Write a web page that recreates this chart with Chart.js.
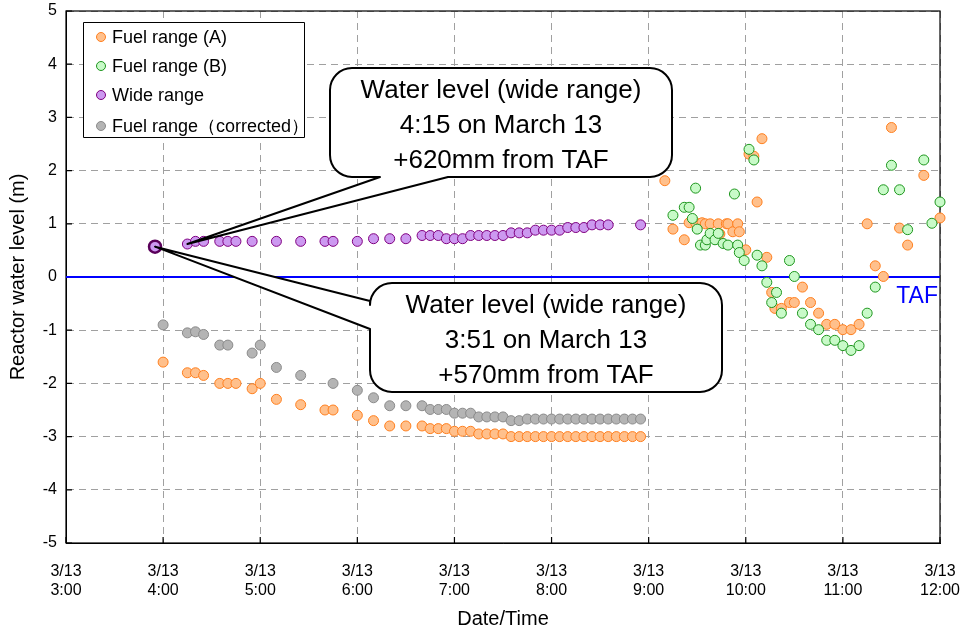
<!DOCTYPE html>
<html>
<head>
<meta charset="utf-8">
<script src="https://cdn.jsdelivr.net/npm/chart.js@4.4.1/dist/chart.umd.min.js"></script>
<style>
  html, body { margin: 0; padding: 0; background: #fff; }
</style>
</head>
<body>
<canvas id="chart" width="968" height="635"></canvas>
<script>
const FONT = "'Liberation Sans', Arial, sans-serif";

// x ticks: every hour from 3:00 to 12:00 on 3/13
const hourLabels = ['3:00', '4:00', '5:00', '6:00', '7:00', '8:00', '9:00', '10:00', '11:00', '12:00'];
const dateLabel = '3/13';
const TAF_LEVEL = 0;

// Fuel range (A)
const fuelATimes = [
  '4:00', '4:15', '4:20', '4:25', '4:35', '4:40', '4:45', '4:55', '5:00', '5:10', '5:25', '5:40', '5:45',
  '6:00', '6:10', '6:20', '6:30', '6:40', '6:45', '6:50', '6:55', '7:00', '7:05', '7:10', '7:15', '7:20',
  '7:25', '7:30', '7:35', '7:40', '7:45', '7:50', '7:55', '8:00', '8:05', '8:10', '8:15', '8:20', '8:25',
  '8:30', '8:35', '8:40', '8:45', '8:50', '8:55',
  '9:10', '9:15', '9:22', '9:25', '9:29', '9:33', '9:35', '9:38', '9:43', '9:44', '9:48', '9:49', '9:52',
  '9:55', '9:56', '10:00', '10:02', '10:05', '10:07', '10:10', '10:13', '10:16', '10:18', '10:22', '10:27',
  '10:30', '10:35', '10:40', '10:45', '10:50', '10:55', '11:00', '11:05', '11:10', '11:15', '11:20', '11:25',
  '11:30', '11:35', '11:40', '11:50', '12:00'
];
const fuelAValues = [
  -1.6, -1.8, -1.8, -1.85, -2.0, -2.0, -2.0, -2.1, -2.0, -2.3, -2.4, -2.5, -2.5,
  -2.6, -2.7, -2.8, -2.8, -2.8, -2.85, -2.85, -2.85, -2.9, -2.9, -2.9, -2.95, -2.95,
  -2.95, -2.95, -3.0, -3.0, -3.0, -3.0, -3.0, -3.0, -3.0, -3.0, -3.0, -3.0, -3.0,
  -3.0, -3.0, -3.0, -3.0, -3.0, -3.0,
  1.81, 0.9, 0.7, 1.02, 1.02, 1.02, 1.0, 1.0, 1.0, 0.81, 1.0, 1.0, 0.85,
  1.0, 0.85, 0.51, 2.31, 2.27, 1.41, 2.6, 0.37, -0.29, -0.59, -0.59, -0.48,
  -0.48, -0.19, -0.48, -0.68, -0.89, -0.89, -0.99, -0.99, -0.89, 1.0, 0.21, 0.01,
  2.81, 0.92, 0.6, 1.91, 1.11
];

// Fuel range (B)
const fuelBTimes = [
  '9:15', '9:22', '9:25', '9:27', '9:29', '9:30', '9:32', '9:35', '9:36', '9:38', '9:41', '9:43', '9:46',
  '9:49', '9:53', '9:55', '9:56', '9:59', '10:02', '10:05', '10:07', '10:10', '10:13', '10:16', '10:19',
  '10:22', '10:27', '10:30', '10:35', '10:40', '10:45', '10:50', '10:55', '11:00', '11:05', '11:10', '11:15',
  '11:20', '11:25', '11:30', '11:35', '11:40', '11:50', '11:55', '12:00'
];
const fuelBValues = [
  1.16, 1.31, 1.31, 1.1, 1.67, 0.9, 0.6, 0.6, 0.7, 0.82, 0.7, 0.82, 0.63,
  0.6, 1.56, 0.6, 0.46, 0.31, 2.4, 2.2, 0.41, 0.21, -0.1, -0.48, -0.29,
  -0.68, 0.31, 0.01, -0.68, -0.89, -0.99, -1.19, -1.19, -1.29, -1.38, -1.29, -0.68,
  -0.19, 1.64, 2.1, 1.64, 0.89, 2.2, 1.01, 1.41
];

// Wide range
const wideTimes = [
  '3:55', '4:15', '4:20', '4:25', '4:35', '4:40', '4:45', '4:55', '5:10', '5:25', '5:40', '5:45', '6:00',
  '6:10', '6:20', '6:30', '6:40', '6:45', '6:50', '6:55', '7:00', '7:05', '7:10', '7:15', '7:20', '7:25',
  '7:30', '7:35', '7:40', '7:45', '7:50', '7:55', '8:00', '8:05', '8:10', '8:15', '8:20', '8:25', '8:30',
  '8:35', '8:55'
];
const wideValues = [
  0.57, 0.62, 0.67, 0.67, 0.67, 0.67, 0.67, 0.67, 0.67, 0.67, 0.67, 0.67, 0.67,
  0.72, 0.72, 0.72, 0.78, 0.78, 0.78, 0.72, 0.72, 0.72, 0.78, 0.78, 0.78, 0.78,
  0.78, 0.83, 0.83, 0.83, 0.88, 0.88, 0.88, 0.88, 0.93, 0.93, 0.93, 0.98, 0.98,
  0.98, 0.98
];

// Fuel range (corrected)
const correctedTimes = [
  '4:00', '4:15', '4:20', '4:25', '4:35', '4:40', '4:55', '5:00', '5:10', '5:25', '5:45', '6:00', '6:10',
  '6:20', '6:30', '6:40', '6:45', '6:50', '6:55', '7:00', '7:05', '7:10', '7:15', '7:20', '7:25', '7:30',
  '7:35', '7:40', '7:45', '7:50', '7:55', '8:00', '8:05', '8:10', '8:15', '8:20', '8:25', '8:30', '8:35',
  '8:40', '8:45', '8:50', '8:55'
];
const correctedValues = [
  -0.9, -1.05, -1.03, -1.08, -1.28, -1.28, -1.43, -1.28, -1.7, -1.85, -2.0, -2.13, -2.27,
  -2.42, -2.42, -2.42, -2.49, -2.49, -2.49, -2.56, -2.56, -2.56, -2.63, -2.63, -2.63, -2.63,
  -2.7, -2.7, -2.67, -2.67, -2.67, -2.67, -2.67, -2.67, -2.67, -2.67, -2.67, -2.67, -2.67,
  -2.67, -2.67, -2.67, -2.67
];

// the two annotated wide range readings
const calloutTimes = ['4:15', '3:55'];
const calloutValues = [0.62, 0.57];
const calloutTexts = [
  ['Water level (wide range)', '4:15 on March 13', '+620mm from TAF'],
  ['Water level (wide range)', '3:51 on March 13', '+570mm from TAF']
];

const toMinutes = (t) => {
  const [h, m] = t.split(':').map(Number);
  return (h - 3) * 60 + m;
};
const toPoints = (times, values) => times.map((t, i) => ({ x: toMinutes(t), y: values[i] }));

const widePoints = toPoints(wideTimes, wideValues);

// callout boxes (pixels) and the base of their pointer on the box edge
const calloutBoxes = [
  { x: 330, y: 68, w: 342, h: 109, edge: 'bottom', base: [380, 448] },
  { x: 370, y: 283, w: 352, h: 109, edge: 'left', base: [301, 329] }
];

const roundBoxPath = (ctx, b, tip) => {
  const r = 22;
  const { x, y, w, h } = b;
  ctx.beginPath();
  ctx.moveTo(x + r, y);
  ctx.lineTo(x + w - r, y);
  ctx.arcTo(x + w, y, x + w, y + r, r);
  ctx.lineTo(x + w, y + h - r);
  ctx.arcTo(x + w, y + h, x + w - r, y + h, r);
  if (b.edge === 'bottom') {
    ctx.lineTo(b.base[1], y + h);
    ctx.lineTo(tip.x, tip.y);
    ctx.lineTo(b.base[0], y + h);
  }
  ctx.lineTo(x + r, y + h);
  ctx.arcTo(x, y + h, x, y + h - r, r);
  if (b.edge === 'left') {
    ctx.lineTo(x, b.base[1]);
    ctx.lineTo(tip.x, tip.y);
    ctx.lineTo(x, b.base[0]);
  }
  ctx.lineTo(x, y + r);
  ctx.arcTo(x, y, x + r, y, r);
  ctx.closePath();
};

const framePlugin = {
  id: 'frame',
  beforeDatasetsDraw(chart) {
    const { ctx, chartArea: a, scales: { x, y } } = chart;
    ctx.save();
    ctx.strokeStyle = '#000';
    ctx.lineWidth = 1.2;
    ctx.strokeRect(a.left, a.top, a.right - a.left, a.bottom - a.top);
    ctx.beginPath();
    x.ticks.forEach(t => {
      const px = x.getPixelForValue(t.value);
      ctx.moveTo(px, a.bottom);
      ctx.lineTo(px, a.bottom - 6);
    });
    y.ticks.forEach(t => {
      const py = y.getPixelForValue(t.value);
      ctx.moveTo(a.left, py);
      ctx.lineTo(a.left + 6, py);
    });
    ctx.stroke();
    // TAF label
    ctx.fillStyle = '#0000ff';
    ctx.font = '23px ' + FONT;
    ctx.textAlign = 'right';
    ctx.textBaseline = 'middle';
    ctx.fillText('TAF', a.right - 2, y.getPixelForValue(TAF_LEVEL) + 20);
    ctx.restore();
  }
};

const overlayPlugin = {
  id: 'overlay',
  afterDatasetsDraw(chart) {
    const { ctx, scales: { x, y } } = chart;
    ctx.save();
    // callouts
    calloutBoxes.forEach((b, i) => {
      const tip = { x: x.getPixelForValue(toMinutes(calloutTimes[i])), y: y.getPixelForValue(calloutValues[i]) };
      roundBoxPath(ctx, b, tip);
      ctx.fillStyle = '#fff';
      ctx.fill();
      ctx.strokeStyle = '#000';
      ctx.lineWidth = 2;
      ctx.lineJoin = 'round';
      ctx.stroke();
      ctx.fillStyle = '#000';
      ctx.font = '26px ' + FONT;
      ctx.textAlign = 'center';
      ctx.textBaseline = 'middle';
      const cx = b.x + b.w / 2;
      const cy = b.y + b.h / 2 + 3;
      calloutTexts[i].forEach((line, k) => ctx.fillText(line, cx, cy + (k - 1) * 35));
    });
    // legend
    const lx = 83, ly = 22, lw = 221, lh = 115;
    ctx.fillStyle = '#fff';
    ctx.fillRect(lx, ly, lw, lh);
    ctx.strokeStyle = '#000';
    ctx.lineWidth = 1;
    ctx.strokeRect(lx + 0.5, ly + 0.5, lw, lh);
    const rows = [37, 66, 95, 126];
    chart.data.datasets.filter(d => d.inLegend).forEach((d, k) => {
      ctx.beginPath();
      ctx.arc(lx + 18, rows[k], 4.5, 0, Math.PI * 2);
      ctx.fillStyle = d.backgroundColor;
      ctx.fill();
      ctx.strokeStyle = d.borderColor;
      ctx.lineWidth = 1;
      ctx.stroke();
      ctx.fillStyle = '#000';
      ctx.font = '18px ' + FONT;
      ctx.textAlign = 'left';
      ctx.textBaseline = 'middle';
      ctx.fillText(d.label, lx + 29, rows[k] + 1);
    });
    ctx.restore();
  }
};

const bigIndex = wideTimes.indexOf(calloutTimes[1]);

new Chart(document.getElementById('chart'), {
  type: 'scatter',
  data: {
    datasets: [
      {
        label: 'Fuel range (A)',
        inLegend: true,
        data: toPoints(fuelATimes, fuelAValues),
        backgroundColor: '#ffc08c',
        borderColor: '#ff7f1e',
        order: 4
      },
      {
        label: 'Fuel range (B)',
        inLegend: true,
        data: toPoints(fuelBTimes, fuelBValues),
        backgroundColor: '#c8fac8',
        borderColor: '#1e961e',
        order: 3
      },
      {
        label: 'Wide range',
        inLegend: true,
        data: widePoints,
        backgroundColor: '#cc99f0',
        borderColor: '#800080',
        pointRadius: widePoints.map((p, i) => i === bigIndex ? 6 : 5),
        pointBorderWidth: widePoints.map((p, i) => i === bigIndex ? 2.5 : 1),
        pointBorderColor: widePoints.map((p, i) => i === bigIndex ? '#5a005a' : '#800080'),
        order: 2
      },
      {
        label: 'Fuel range（corrected）',
        inLegend: true,
        data: toPoints(correctedTimes, correctedValues),
        backgroundColor: '#b4b4b4',
        borderColor: '#8a8a8a',
        order: 1
      },
      {
        type: 'line',
        label: 'TAF',
        inLegend: false,
        data: [{ x: 0, y: TAF_LEVEL }, { x: 540, y: TAF_LEVEL }],
        borderColor: '#0000ff',
        borderWidth: 2,
        pointRadius: 0,
        order: 10
      }
    ]
  },
  plugins: [framePlugin, overlayPlugin],
  options: {
    responsive: false,
    animation: false,
    events: [],
    clip: false,
    layout: { padding: { top: 11, right: 28, left: 0, bottom: 0 } },
    elements: {
      point: { radius: 5, borderWidth: 1 }
    },
    plugins: {
      legend: { display: false },
      tooltip: { enabled: false }
    },
    scales: {
      x: {
        type: 'linear',
        min: 0,
        max: 540,
        afterFit: (scale) => {
          scale.height = 92;
          scale.paddingLeft = 0;
          scale.paddingRight = 0;
        },
        ticks: {
          stepSize: 60,
          color: '#000',
          padding: 19,
          maxRotation: 0,
          font: { family: FONT, size: 16 },
          callback: (v) => [dateLabel, hourLabels[v / 60]]
        },
        grid: { color: '#a0a0a0', drawTicks: false },
        border: { display: true, color: '#000', dash: [7, 5] },
        title: {
          display: true,
          text: 'Date/Time',
          color: '#000',
          font: { family: FONT, size: 20 },
          padding: { top: 0, bottom: 4 }
        }
      },
      y: {
        min: -5,
        max: 5,
        afterFit: (scale) => {
          scale.width = 66;
          scale.paddingTop = 0;
          scale.paddingBottom = 0;
        },
        ticks: {
          stepSize: 1,
          color: '#000',
          padding: 9,
          font: { family: FONT, size: 16 }
        },
        grid: { color: '#a0a0a0', drawTicks: false },
        border: { display: true, color: '#000', dash: [7, 5] },
        title: {
          display: true,
          text: 'Reactor water level (m)',
          color: '#000',
          font: { family: FONT, size: 20 },
          padding: { top: 6, bottom: 0 }
        }
      }
    }
  }
});
</script>
</body>
</html>
